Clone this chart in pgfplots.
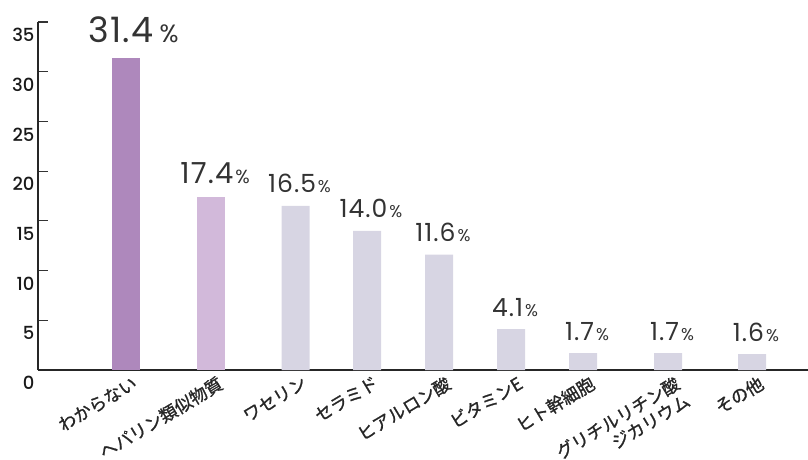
\documentclass[border=0pt]{standalone}
\usepackage{pgfplots}
\pgfplotsset{compat=1.18}
\usepackage{fontspec}
\setmainfont{Poppins}[LetterSpace=4]
\newfontfamily\popm{Poppins Medium}
\newfontfamily\jp{Noto Sans CJK JP}[FakeBold=1.2]
\definecolor{c1}{HTML}{AE88BC}
\definecolor{c2}{HTML}{D2B9DA}
\definecolor{c3}{HTML}{D7D5E3}
\definecolor{txt}{HTML}{333333}
\begin{document}
\begin{tikzpicture}
\begin{axis}[
  scale only axis, width=770pt, height=348pt,
  xmin=38, xmax=808, ymin=0, ymax=35,
  axis x line*=bottom, axis y line*=left,
  axis line style={-, line width=1.4pt, color=black!85},
  ytick={0,5,...,35}, tick align=inside, major tick length=10pt,
  ytick style={line width=1.2pt, color=black!80},
  xtick={125.5,211,295.5,367,439,511,583,668,752},
  xticklabels={わからない, ヘパリン類似物質, ワセリン, セラミド, ヒアルロン酸, ビタミンE, ヒト幹細胞, {グリチルリチン酸\\ジカリウム}, その他},
  xtick style={draw=none},
  xticklabel style={font=\jp\fontsize{17.5}{20}\selectfont, text=black!85, rotate=31, anchor=north east, align=right, xshift=11pt, yshift=5pt},
  yticklabel style={font=\popm\fontsize{18}{18}\selectfont, text=black!90, yshift=-13pt},
  /pgf/number format/assume math mode=true,
  ybar, bar width=28, bar shift=0pt,
  clip=false,
]
\addplot[fill=c1, draw=none,
  nodes near coords={\pgfmathprintnumber[fixed,fixed zerofill,precision=1]{\pgfplotspointmeta}\hspace{6pt}{\fontsize{25}{25}\selectfont\%}},
  every node near coord/.append style={anchor=base, yshift=15pt, xshift=8pt, text=txt, font=\fontsize{35}{35}\selectfont}]
  coordinates {(125.5,31.4)};
\addplot[fill=c2, draw=none,
  nodes near coords={\pgfmathprintnumber[fixed,fixed zerofill,precision=1]{\pgfplotspointmeta}\hspace{2pt}{\fontsize{19}{19}\selectfont\%}},
  every node near coord/.append style={anchor=base, yshift=14pt, xshift=4pt, text=txt, font=\fontsize{29}{29}\selectfont}]
  coordinates {(211,17.4)};
\addplot[fill=c3, draw=none,
  nodes near coords={\pgfmathprintnumber[fixed,fixed zerofill,precision=1]{\pgfplotspointmeta}\hspace{2pt}{\fontsize{17}{17}\selectfont\%}},
  every node near coord/.append style={anchor=base, yshift=13pt, xshift=4pt, text=txt, font=\fontsize{25}{25}\selectfont}]
  coordinates {(295.5,16.5) (367,14.0) (439,11.6) (511,4.1) (583,1.7) (668,1.7) (752,1.6)};
\end{axis}
\pgfresetboundingbox
\path (-38pt,-89pt) rectangle (770pt,370pt);
\end{tikzpicture}
\end{document}
